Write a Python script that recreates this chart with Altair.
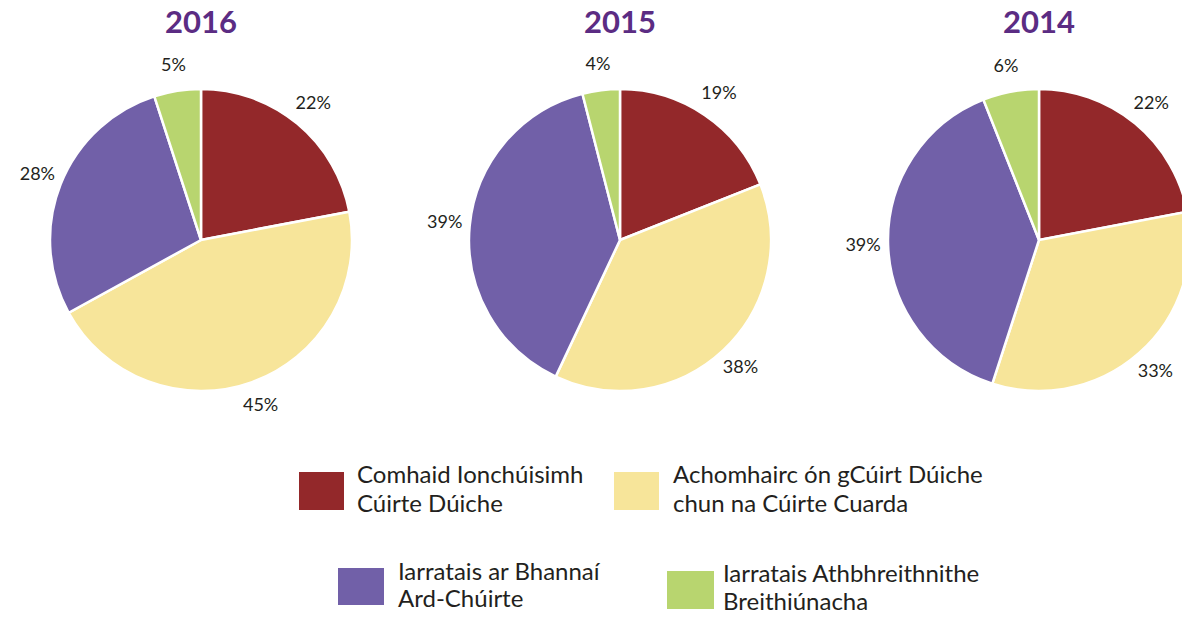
import altair as alt
import pandas as pd

# ---- data ----
years = ["2016", "2015", "2014"]
categories = [
    "Comhaid Ionchúisimh Cúirte Dúiche",
    "Achomhairc ón gCúirt Dúiche chun na Cúirte Cuarda",
    "Iarratais ar Bhannaí Ard-Chúirte",
    "Iarratais Athbhreithnithe Breithiúnacha",
]
legend_line1 = ["Comhaid Ionchúisimh", "Achomhairc ón gCúirt Dúiche", "Iarratais ar Bhannaí", "Iarratais Athbhreithnithe"]
legend_line2 = ["Cúirte Dúiche", "chun na Cúirte Cuarda", "Ard-Chúirte", "Breithiúnacha"]
values_2016 = [22, 45, 28, 5]
values_2015 = [19, 38, 39, 4]
values_2014 = [22, 33, 39, 6]

# ---- styles / layout ----
colors = ["#93282a", "#f7e59a", "#7160a8", "#b8d56f"]
title_color = "#5b2c83"
text_color = "#231f20"
FONT = "Lato"
W, H = 1174, 604

rows = []
for yr, vals in zip(years, [values_2016, values_2015, values_2014]):
    for i, (c, v) in enumerate(zip(categories, vals)):
        rows.append({"year": yr, "idx": i, "category": c, "value": v})
df = pd.DataFrame(rows)

# legend layout (pixel positions in chart coordinates)
leg_x0 = [291, 606, 330, 659]
leg_x1 = [336, 651, 376, 706]
leg_y0 = [464, 464, 560, 563]
leg_y1 = [502, 502, 597, 601]
leg_tx = [349, 665, 390, 715]
leg_ty1 = [468, 468, 565, 567]
leg_ty2 = [497, 497, 592, 595]
leg_df = pd.DataFrame({
    "category": categories, "line1": legend_line1, "line2": legend_line2,
    "x0": leg_x0, "x1": leg_x1, "y0": leg_y0, "y1": leg_y1,
    "tx": leg_tx, "ty1": leg_ty1, "ty2": leg_ty2,
})

color_enc = alt.Color("category:N", scale=alt.Scale(domain=categories, range=colors), legend=None)
theta_scale = alt.Scale(domain=[0, 100])
x_enc = alt.X("year:N", sort=years,
              scale=alt.Scale(type="point", domain=years, range=[193, 1031], padding=0),
              axis=None)
y_center = alt.value(232)

pie_base = (
    alt.Chart(df)
    .transform_window(cum="sum(value)", groupby=["year"], sort=[alt.SortField("idx")], frame=[None, 0])
    .transform_calculate(start="datum.cum - datum.value",
                         mid="datum.cum - datum.value / 2",
                         label="datum.value + '%'")
)

arcs = pie_base.mark_arc(outerRadius=151, stroke="white", strokeWidth=2.5).encode(
    x=x_enc, y=y_center,
    theta=alt.Theta("start:Q", scale=theta_scale, stack=None),
    theta2="cum:Q",
    color=color_enc,
)

labels = pie_base.mark_text(radius=176, fontSize=18, font=FONT, color=text_color,
                            align="center", baseline="middle").encode(
    x=x_enc, y=y_center,
    theta=alt.Theta("mid:Q", scale=theta_scale, stack=None),
    text="label:N",
)

titles = alt.Chart(pd.DataFrame({"year": years})).mark_text(
    font=FONT, fontSize=31, fontWeight="bold", color=title_color, baseline="alphabetic"
).encode(x=x_enc, y=alt.value(25), text="year:N")

leg_rect = alt.Chart(leg_df).mark_rect().encode(
    x=alt.X("x0:Q", scale=None, axis=None), x2="x1:Q",
    y=alt.Y("y0:Q", scale=None, axis=None), y2="y1:Q",
    color=color_enc,
)
leg_t1 = alt.Chart(leg_df).mark_text(align="left", baseline="middle", fontSize=24, font=FONT,
                                     color=text_color).encode(
    x=alt.X("tx:Q", scale=None, axis=None), y=alt.Y("ty1:Q", scale=None, axis=None), text="line1:N")
leg_t2 = alt.Chart(leg_df).mark_text(align="left", baseline="middle", fontSize=24, font=FONT,
                                     color=text_color).encode(
    x=alt.X("tx:Q", scale=None, axis=None), y=alt.Y("ty2:Q", scale=None, axis=None), text="line2:N")

chart = (
    alt.layer(arcs, labels, titles, leg_rect, leg_t1, leg_t2)
    .resolve_scale(x="independent", y="independent")
    .properties(width=W, height=H, padding=0, autosize=alt.AutoSizeParams(type="none"))
    .configure_view(stroke=None)
)

chart.save("out.html", embed_options={"renderer": "svg", "actions": False})
